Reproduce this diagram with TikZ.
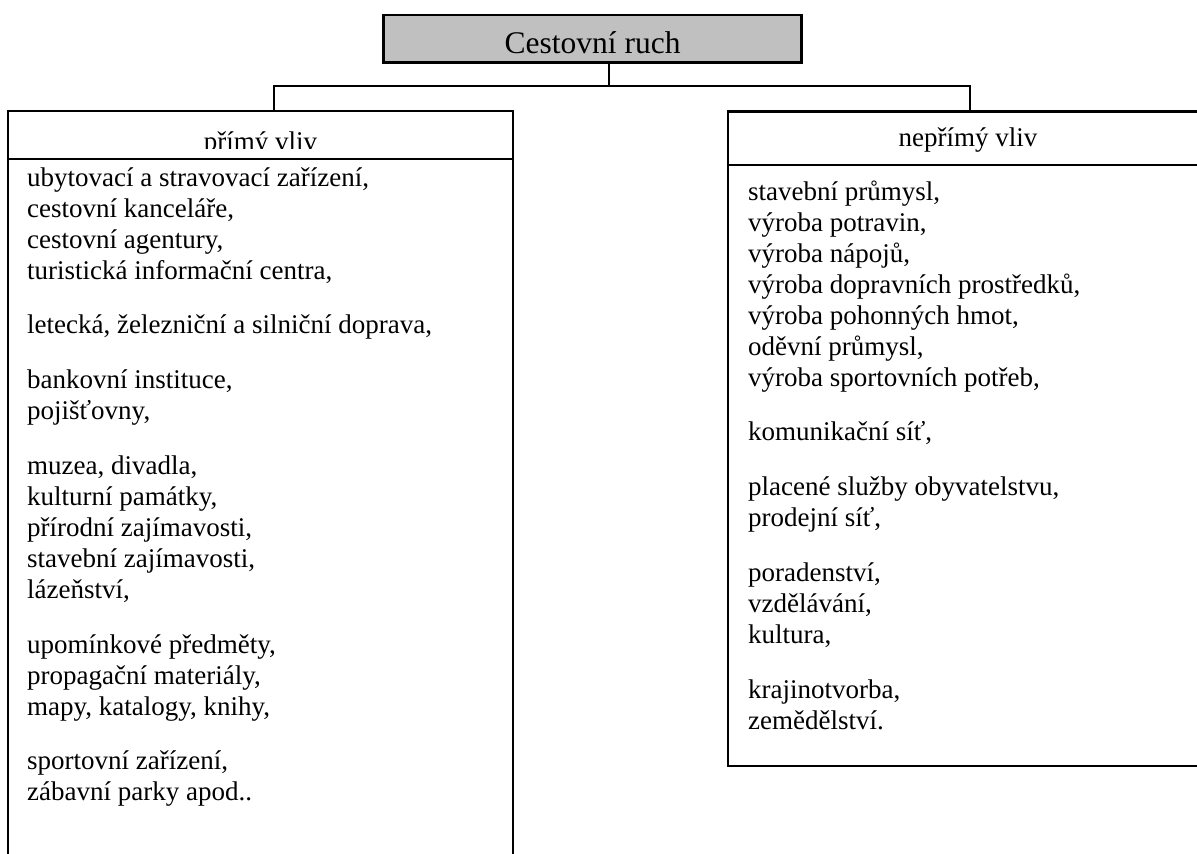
\documentclass[tikz,border=0pt]{standalone}
\usepackage{fontspec}
\setmainfont{Liberation Serif}
\definecolor{boxgray}{HTML}{C0C0C0}
\newcommand\tline[1]{\hbox{#1}}
\newcommand\pgap{\vskip 23.75pt}
\tikzset{
  frame/.style={draw=black, line width=2.6pt, inner sep=0pt},
  conn/.style={draw=black, line width=2.4pt},
  bodytext/.style={anchor=base west, inner sep=0pt, font=\fontsize{27}{31}\selectfont},
  headtext/.style={anchor=base, inner sep=0pt, font=\fontsize{27}{31}\selectfont},
}
\begin{document}
\begin{tikzpicture}[x=1pt,y=-1pt]
\useasboundingbox[fill=white] (0,0) rectangle (1197,854);
% top box
\node[frame, fill=boxgray, minimum width=418pt, minimum height=47.7pt] (top) at (592.6,38.9) {};
\node[anchor=base, inner sep=0pt, font=\fontsize{31.5}{36}\selectfont] (toptxt) at (592.6,53.5) {Cestovní ruch};
% left box (open at the bottom, runs off the page)
\node[frame, minimum width=505pt, minimum height=800pt] (L) at (260.5,511) {};
\draw[frame] (L.west |- 0,159) -- (L.east |- 0,159);
\begin{scope}
\clip (8,111) rectangle (513,148.5);
\node[headtext] (Lhead) at (260.5,150) {přímý vliv};
\end{scope}
\node[bodytext] (Lbody) at (27,186) {\vtop{%
\tline{ubytovací a stravovací zařízení,}
\tline{cestovní kanceláře,}
\tline{cestovní agentury,}
\tline{turistická informační centra,}\pgap
\tline{letecká, železniční a silniční doprava,}\pgap
\tline{bankovní instituce,}
\tline{pojišťovny,}\pgap
\tline{muzea, divadla,}
\tline{kulturní památky,}
\tline{přírodní zajímavosti,}
\tline{stavební zajímavosti,}
\tline{lázeňství,}\pgap
\tline{upomínkové předměty,}
\tline{propagační materiály,}
\tline{mapy, katalogy, knihy,}\pgap
\tline{sportovní zařízení,}
\tline{zábavní parky apod..}}};
% right box (runs off the right edge)
\node[frame, minimum width=480pt, minimum height=654.5pt] (R) at (968,438.75) {};
\draw[frame] (R.west |- 0,165) -- (R.east |- 0,165);
\node[headtext] (Rhead) at (968,146) {nepřímý vliv};
\node[bodytext] (Rbody) at (748,200) {\vtop{%
\tline{stavební průmysl,}
\tline{výroba potravin,}
\tline{výroba nápojů,}
\tline{výroba dopravních prostředků,}
\tline{výroba pohonných hmot,}
\tline{oděvní průmysl,}
\tline{výroba sportovních potřeb,}\pgap
\tline{komunikační síť,}\pgap
\tline{placené služby obyvatelstvu,}
\tline{prodejní síť,}\pgap
\tline{poradenství,}
\tline{vzdělávání,}
\tline{kultura,}\pgap
\tline{krajinotvorba,}
\tline{zemědělství.}}};
% connectors
\coordinate (j) at (609,85.7);
\coordinate (bl) at (274,85.7);
\coordinate (br) at (970,85.7);
\draw[conn] (top.south -| j) -- (j);
\draw[conn] (L.north -| bl) -- (bl) -- (br) -- (R.north -| br);
\end{tikzpicture}
\end{document}
